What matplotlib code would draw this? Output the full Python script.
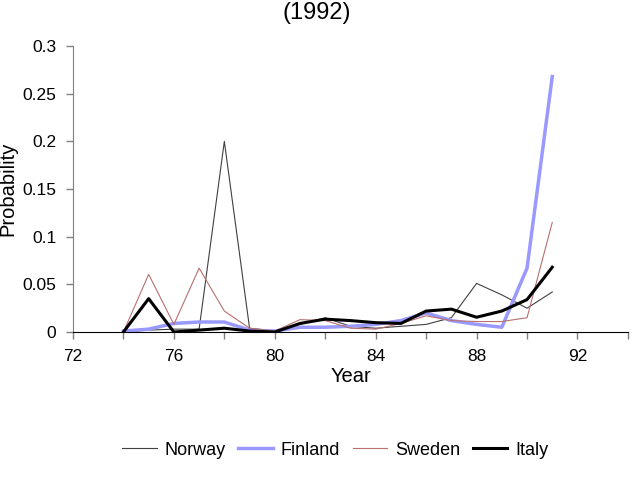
import matplotlib.pyplot as plt

plt.rcParams['font.family'] = ['Liberation Sans', 'DejaVu Sans']

years = list(range(74, 92))
norway = [0.0, 0.002, 0.003, 0.003, 0.200, 0.004, 0.001, 0.008, 0.015, 0.006,
          0.004, 0.006, 0.008, 0.015, 0.051, 0.039, 0.025, 0.042]
finland = [0.001, 0.003, 0.009, 0.0105, 0.0105, 0.002, 0.001, 0.005, 0.005, 0.006,
           0.008, 0.012, 0.020, 0.012, 0.008, 0.005, 0.067, 0.268]
sweden = [0.0, 0.0605, 0.008, 0.067, 0.022, 0.004, 0.001, 0.013, 0.012, 0.004,
          0.003, 0.009, 0.017, 0.012, 0.011, 0.011, 0.015, 0.115]
italy = [0.0, 0.035, 0.0, 0.002, 0.004, 0.001, 0.0, 0.009, 0.0135, 0.012,
         0.0098, 0.009, 0.022, 0.024, 0.0155, 0.022, 0.034, 0.068]

fig = plt.figure(figsize=(6.33, 4.8), dpi=100)
ax = fig.add_axes([0.1153, 0.3083, 0.8767, 0.5957])

ax.plot(years, norway, color='#404040', lw=0.8, label='Norway')
ax.plot(years, finland, color='#9999ff', lw=2.5, label='Finland')
ax.plot(years, sweden, color='#b87070', lw=0.8, label='Sweden')
ax.plot(years, italy, color='black', lw=2.2, label='Italy')

ax.set_xlim(72, 94)
ax.set_ylim(0, 0.3)
ax.set_xticks(range(72, 95, 2))
ax.set_xticklabels([str(y) if y % 4 == 0 and y < 94 else '' for y in range(72, 95, 2)])
ax.set_yticks([0, 0.05, 0.1, 0.15, 0.2, 0.25, 0.3])
ax.set_yticklabels(['0', '0.05', '0.1', '0.15', '0.2', '0.25', '0.3'])
ax.tick_params(axis='both', labelsize=12.5, colors='#808080', labelcolor='black',
               length=5, width=1, direction='out')
ax.tick_params(axis='x', pad=7)
ax.tick_params(axis='y', pad=7)

for s in ['top', 'right']:
    ax.spines[s].set_visible(False)
ax.spines['left'].set_color('#808080')
ax.spines['bottom'].set_color('black')

ax.set_xlabel('Year', fontsize=14.5)
ax.xaxis.set_label_coords(0.5, -0.124)
ax.set_ylabel('Probability', fontsize=14.5)
ax.yaxis.set_label_coords(-0.1, 0.5)

fig.text(0.5, 0.996, '(1992)', ha='center', va='top', fontsize=17)

fig.legend(loc='center', bbox_to_anchor=(0.53, 0.062), ncol=4, frameon=False,
           fontsize=13, handlelength=1.9, columnspacing=0.7, handletextpad=0.45)

fig.savefig('out.png', dpi=100)
